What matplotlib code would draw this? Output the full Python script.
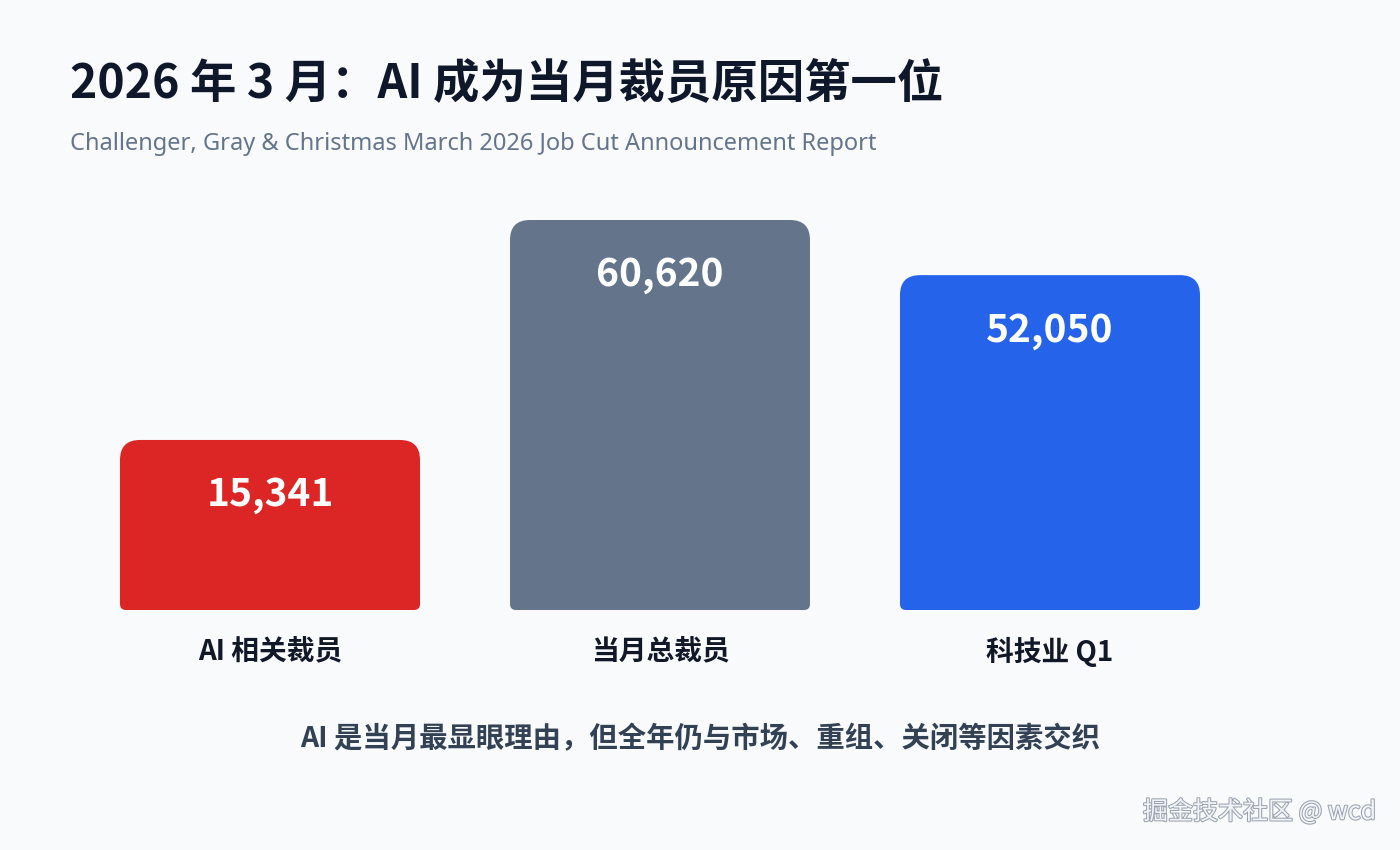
import matplotlib
matplotlib.use("Agg")
import matplotlib.pyplot as plt
import matplotlib.patheffects as pe
from matplotlib.path import Path
from matplotlib.patches import PathPatch

plt.rcParams['font.family'] = ['Noto Sans CJK SC', 'DejaVu Sans']

# datos
categories = ['AI 相关裁员', '当月总裁员', '科技业 Q1']
values = [15341, 60620, 52050]
colors = ['#dc2626', '#64748b', '#2563eb']
title = '2026 年 3 月：AI 成为当月裁员原因第一位'
subtitle = 'Challenger, Gray & Christmas March 2026 Job Cut Announcement Report'
note = 'AI 是当月最显眼理由，但全年仍与市场、重组、关闭等因素交织'
watermark = '掘金技术社区 @ wcd'

W, H = 1400, 850
bg = '#f8fafc'
fig = plt.figure(figsize=(14, 8.5), dpi=100, facecolor=bg)

# eje de las barras: 390 px por categoria, base en y=610 px, tope en y=220 px
step_px = 390
first_px = 270
base_px, top_px = 610, 220
ax = fig.add_axes([0, (H - base_px) / H, 1, (base_px - top_px) / H])
ax.set_facecolor('none')
ax.set_xlim(-first_px / step_px, (W - first_px) / step_px)
vmax = max(values)
ax.set_ylim(0, vmax)
ax.axis('off')

# altura minima visible de la barra (como en el original)
min_frac = 0.436
bar_w = 300 / step_px
px_y = vmax / (base_px - top_px)   # unidades de datos por pixel en y
px_x = 1 / step_px


def rounded_bar(x0, x1, y0, y1, r_top, r_bot):
    rxt, ryt = r_top * px_x, r_top * px_y
    rxb, ryb = r_bot * px_x, r_bot * px_y
    verts = [
        (x0 + rxb, y0), (x1 - rxb, y0), (x1, y0), (x1, y0 + ryb),
        (x1, y1 - ryt), (x1, y1), (x1 - rxt, y1),
        (x0 + rxt, y1), (x0, y1), (x0, y1 - ryt),
        (x0, y0 + ryb), (x0, y0), (x0 + rxb, y0), (x0 + rxb, y0),
    ]
    codes = [Path.MOVETO, Path.LINETO, Path.CURVE3, Path.CURVE3,
             Path.LINETO, Path.CURVE3, Path.CURVE3,
             Path.LINETO, Path.CURVE3, Path.CURVE3,
             Path.LINETO, Path.CURVE3, Path.CURVE3, Path.CLOSEPOLY]
    return Path(verts, codes)


for i, (cat, v, c) in enumerate(zip(categories, values, colors)):
    h = max(v, min_frac * vmax)
    p = rounded_bar(i - bar_w / 2, i + bar_w / 2, 0, h, 20, 6)
    ax.add_patch(PathPatch(p, facecolor=c, edgecolor='none'))
    ax.text(i, h - 55 * px_y, f'{v:,}', ha='center', va='center',
            color='white', fontsize=28, fontweight='bold')
    ax.text(i, -42 * px_y, cat, ha='center', va='center', color='#111827',
            fontsize=20, fontweight='bold', clip_on=False)

fig.text(70 / W, 1 - 85 / H, title, ha='left', va='center', fontsize=33.4,
         fontweight='bold', color='#0f172a')
fig.text(70 / W, 1 - 144 / H, subtitle, ha='left', va='center', fontsize=17,
         color='#64748b', family=['Noto Sans', 'DejaVu Sans'])
fig.text(700 / W, 1 - 739 / H, note, ha='center', va='center', fontsize=20.4,
         fontweight='bold', color='#334155')
fig.text(1376 / W, 1 - 812 / H, watermark, ha='right', va='center', fontsize=18,
         color='#f1f5f9',
         path_effects=[pe.withStroke(linewidth=1.5, foreground='#9ca3af')])

fig.savefig('out.png', dpi=100, facecolor=bg)
